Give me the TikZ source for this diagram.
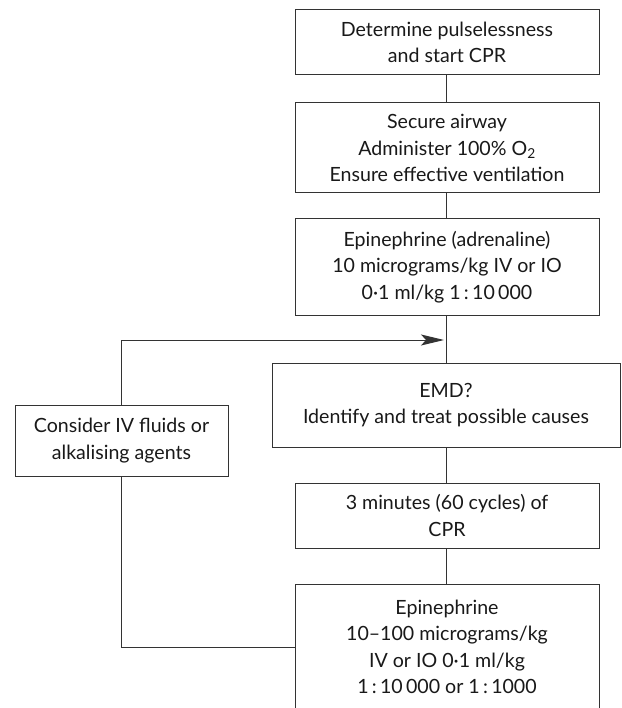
\documentclass[tikz,border=0pt]{standalone}
\usepackage{fontspec}
\setmainfont{Lato}
\usetikzlibrary{arrows.meta}
\begin{document}
\begin{tikzpicture}[x=1pt,y=-1pt,
  box/.style={draw=black!80, line width=1pt, align=center, inner sep=0pt,
    font=\fontsize{19.6}{26.5}\selectfont, text=black!90},
  conn/.style={draw=black!80, line width=1pt},
  arr/.style={conn, -{Stealth[length=23pt,width=11pt,inset=5pt]}}]
\clip (0,0) rectangle (621,708);
\fill[white] (0,0) rectangle (621,708);
\node[box, minimum width=304pt, minimum height=65pt] (b1) at (447,42.5)
  {Determine pulselessness\\and start CPR};
\node[box, minimum width=304pt, minimum height=90pt] (b2) at (447,148)
  {Secure airway\\Administer 100\% O\textsubscript{2}\\Ensure effective ventilation};
\node[box, minimum width=304pt, minimum height=96pt] (b3) at (447,267)
  {Epinephrine (adrenaline)\\10 micrograms/kg IV or IO\\0·1 ml/kg 1\,:\,10\,000};
\node[box, minimum width=348pt, minimum height=84pt] (emd) at (446,405)
  {EMD?\\Identify and treat possible causes};
\node[box, minimum width=213pt, minimum height=71pt] (fl) at (121.5,440.5)
  {Consider IV fluids or\\alkalising agents};
\node[box, minimum width=304pt, minimum height=65pt] (cpr) at (447,515.5)
  {3 minutes (60 cycles) of\\CPR};
\node[box, minimum width=304pt, minimum height=126pt] (ep) at (447,647)
  {Epinephrine\\10–100 micrograms/kg\\IV or IO 0·1 ml/kg\\1\,:\,10\,000 or 1\,:\,1000};
\coordinate (m) at (446,340);
\coordinate (tl) at (fl.north |- m);
\coordinate (bl) at (fl.south |- ep.west);
\draw[conn] (b1.south -| m) -- (b2.north -| m);
\draw[conn] (b2.south -| m) -- (b3.north -| m);
\draw[conn] (b3.south -| m) -- (emd.north -| m);
\draw[conn] (emd.south -| m) -- (cpr.north -| m);
\draw[conn] (cpr.south -| m) -- (ep.north -| m);
\draw[arr] (fl.north) -- (tl) -- ([xshift=-2pt]m);
\draw[conn] (fl.south) -- (bl) -- (ep.west);
\end{tikzpicture}
\end{document}
